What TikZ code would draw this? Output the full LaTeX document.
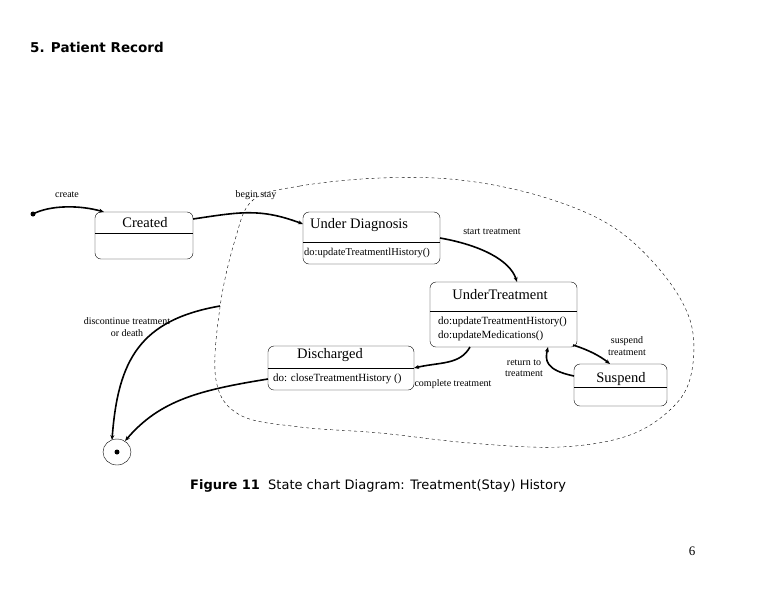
\documentclass[tikz,border=0pt]{standalone}
\usepackage{fontspec}
\setmainfont{Liberation Serif}
\newfontfamily\hdr{DejaVu Sans}
\usetikzlibrary{arrows.meta}
\begin{document}
\begin{tikzpicture}[x=1pt,y=-1pt,
 st/.style={draw,rounded corners=6pt,thin},
 tr/.style={line width=1.6pt,-{Stealth[length=5pt,width=4pt]}},
 lb/.style={font=\fontsize{10}{11.5}\selectfont,align=center,inner sep=0pt},
 nm/.style={font=\fontsize{14.5}{16}\selectfont,inner sep=0pt},
 ac/.style={font=\fontsize{11}{13.5}\selectfont,inner sep=0pt,align=left,anchor=west}]
\useasboundingbox (0,0) rectangle (763,590);
\node[anchor=west,inner sep=0pt,font=\hdr\bfseries\fontsize{13.5}{15}\selectfont] (title) at (30,47) {5. Patient Record};
% blob
\draw[dashed,thin] plot[smooth cycle,tension=0.6] coordinates{(253,200)(300,186)(380,178)(460,180)(540,196)(610,225)(660,270)(690,320)(692,370)(675,405)(630,435)(560,447)(470,443)(380,433)(300,427)(240,415)(216,380)(220,307)(235,240)};
% states
\draw[st] (95,212) rectangle (193,259); \draw (95,233)--(193,233);
\node[nm] (cr) at (145,223) {Created};
\draw[st] (303,212) rectangle (440,264); \draw (303,242)--(440,242);
\node[nm,anchor=west] (ud) at (310,225) {Under Diagnosis};
\node[ac,font=\fontsize{10.5}{12}\selectfont] (uda) at (304,253) {do:updateTreatmentlHistory()};
\draw[st] (430,282) rectangle (577,347); \draw (430,311)--(577,311);
\node[nm] (ut) at (500,295) {UnderTreatment};
\node[ac] (uta) at (438,329) {do:updateTreatmentHistory()\\do:updateMedications()};
\draw[st] (268,346) rectangle (414,390); \draw (268,368)--(414,368);
\node[nm] (di) at (330,355) {Discharged};
\node[ac] (dia) at (273,379) {do: closeTreatmentHistory ()};
\draw[st] (574,364) rectangle (667,406); \draw (574,387)--(667,387);
\node[nm] (su) at (621,379) {Suspend};
\draw[thin] (117,452) ellipse (14 and 13);
\fill (117,452) circle (2.5); \coordinate (fin) at (117,452);
\fill (33,214) circle (2.5); \coordinate (ini) at (33,214);
\coordinate (bl) at (220,306);
% transitions
\draw[tr] (ini) .. controls (50,205) and (80,205) .. (104,212);
\draw[tr] (193,219) .. controls (240,212) and (260,208) .. (303,224);
\draw[tr] (440,238) .. controls (480,245) and (510,260) .. (517,282);
\draw[tr] (470,347) .. controls (460,365) and (440,362) .. (414,368);
\draw[tr] (573,345) .. controls (595,352) and (605,360) .. (610,364);
\draw[tr] (574,376) .. controls (545,370) and (545,360) .. (548,347);
\draw[tr] (bl) .. controls (140,320) and (118,360) .. (112,440);
\draw[tr] (268,379) .. controls (200,390) and (160,400) .. (125,441);
% labels
\node[lb] (l1) at (67,195) {create};
\node[lb] (l2) at (256,195) {begin stay};
\node[lb] (l3) at (492,232) {start treatment};
\node[lb] (l4) at (127,327) {discontinue treatment\\or death};
\node[lb] (l5) at (453,384) {complete treatment};
\node[lb] (l6) at (524,368) {return to\\treatment};
\node[lb] (l7) at (627,346) {suspend\\treatment};
\node[anchor=west,inner sep=0pt,font=\hdr\fontsize{13}{15}\selectfont] (cap) at (190,486) {\textbf{Figure 11}\ \ State chart Diagram: Treatment(Stay) History};
\node[font=\fontsize{13}{14}\selectfont] (pg) at (692,551) {6};
\end{tikzpicture}
\end{document}
